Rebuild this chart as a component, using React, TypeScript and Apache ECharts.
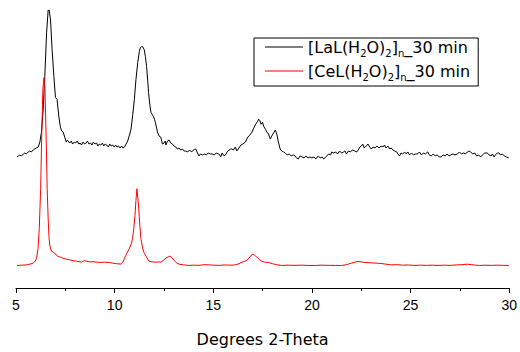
import React, { useEffect, useRef } from "react";
import * as echarts from "echarts";

const xTicks = [5, 10, 15, 20, 25, 30];
const laName = "[LaL(H2O)2]n_30 min";
const ceName = "[CeL(H2O)2]n_30 min";

// 2-Theta (deg), intensity (arbitrary units)
const laData: [number, number][] = [
  [5.05,132],[5.12,133],[5.2,134],[5.28,133],[5.37,135],[5.45,136],[5.52,135],[5.62,137],[5.7,138],[5.78,137],[5.87,139],[5.95,140],[6.03,141],[6.13,142],[6.21,147],[6.29,157],[6.38,180],[6.46,213],[6.55,257],[6.63,280],[6.68,280],[6.75,270],[6.83,240],[6.92,213],[7.0,192],[7.08,190],[7.17,173],[7.25,162],[7.32,158],[7.39,157],[7.47,152],[7.55,147],[7.6,149],[7.64,148],[7.72,146],[7.8,148],[7.87,145],[7.95,147],[8.02,146],[8.1,148],[8.18,145],[8.25,146],[8.32,144],[8.4,147],[8.48,145],[8.55,146],[8.62,148],[8.7,145],[8.78,146],[8.85,144],[8.92,147],[9.0,145],[9.08,146],[9.15,143],[9.22,145],[9.3,144],[9.38,146],[9.45,143],[9.52,145],[9.6,144],[9.68,142],[9.75,145],[9.82,143],[9.9,144],[9.98,142],[10.05,144],[10.12,142],[10.2,143],[10.28,141],[10.35,143],[10.42,141],[10.5,142],[10.58,145],[10.66,148],[10.75,154],[10.83,160],[10.92,175],[11.0,190],[11.08,210],[11.17,227],[11.25,238],[11.3,242],[11.36,243],[11.42,243],[11.5,240],[11.56,233],[11.62,223],[11.68,208],[11.72,197],[11.78,185],[11.84,177],[11.9,175],[11.96,173],[12.02,170],[12.06,167],[12.12,162],[12.17,157],[12.25,153],[12.34,152],[12.42,145],[12.5,146],[12.56,148],[12.6,144],[12.68,148],[12.76,149],[12.85,146],[12.93,145],[13.01,143],[13.1,142],[13.18,140],[13.26,141],[13.35,139],[13.44,140],[13.52,138],[13.6,138],[13.7,137],[13.8,139],[13.9,137],[14.0,139],[14.05,140],[14.11,140],[14.2,136],[14.27,133],[14.35,135],[14.45,134],[14.55,135],[14.65,134],[14.75,136],[14.85,135],[14.94,135],[15.05,134],[15.15,136],[15.28,135],[15.38,132],[15.45,136],[15.55,133],[15.62,134],[15.7,137],[15.8,139],[15.88,140],[15.94,140],[16.02,139],[16.12,142],[16.19,138],[16.3,141],[16.4,144],[16.5,145],[16.63,147],[16.75,152],[16.85,154],[16.96,157],[17.05,161],[17.15,165],[17.25,168],[17.3,170],[17.35,169],[17.42,165],[17.5,167],[17.55,163],[17.64,160],[17.72,157],[17.8,155],[17.89,150],[17.96,153],[18.05,156],[18.14,159],[18.22,155],[18.3,147],[18.39,140],[18.47,138],[18.56,137],[18.65,136],[18.75,134],[18.85,135],[18.95,133],[19.05,134],[19.15,133],[19.22,131],[19.31,130],[19.4,133],[19.5,132],[19.6,131],[19.7,133],[19.8,131],[19.9,132],[20.0,131],[20.1,132],[20.2,130],[20.32,133],[20.42,131],[20.52,132],[20.6,130],[20.66,131],[20.75,133],[20.85,135],[20.95,134],[21.0,137],[21.1,136],[21.2,137],[21.3,135],[21.4,138],[21.5,136],[21.6,137],[21.67,138],[21.75,135],[21.85,138],[21.95,137],[22.05,139],[22.17,138],[22.27,137],[22.35,139],[22.43,142],[22.5,143],[22.58,145],[22.65,141],[22.75,143],[22.84,145],[22.93,142],[23.01,140],[23.1,142],[23.2,141],[23.3,143],[23.4,141],[23.5,143],[23.6,142],[23.68,144],[23.76,141],[23.85,143],[23.95,140],[24.02,141],[24.1,139],[24.2,138],[24.3,137],[24.36,135],[24.44,133],[24.52,136],[24.6,135],[24.7,137],[24.78,135],[24.86,137],[24.95,134],[25.05,136],[25.15,134],[25.25,135],[25.36,135],[25.45,137],[25.55,134],[25.65,136],[25.75,135],[25.87,137],[25.95,134],[26.05,133],[26.15,135],[26.25,133],[26.35,134],[26.45,132],[26.54,132],[26.65,134],[26.75,133],[26.85,135],[26.95,133],[27.04,134],[27.15,135],[27.25,134],[27.38,135],[27.48,137],[27.58,135],[27.68,136],[27.78,135],[27.88,137],[27.96,138],[28.05,137],[28.15,135],[28.25,136],[28.35,133],[28.45,134],[28.55,132],[28.65,134],[28.75,136],[28.89,136],[28.98,134],[29.08,133],[29.15,135],[29.23,132],[29.3,134],[29.4,136],[29.48,136],[29.56,134],[29.65,135],[29.75,133],[29.85,132],[29.98,131]
];

const ceData: [number, number][] = [
  [5.05,22.7],[5.3,23],[5.54,23.3],[5.7,24],[5.87,25],[5.97,27],[6.04,30],[6.12,40],[6.18,60],[6.25,100],[6.3,150],[6.36,200],[6.42,212],[6.47,200],[6.53,150],[6.58,100],[6.63,70],[6.67,52],[6.71,43],[6.8,37],[6.9,36],[6.97,35],[7.05,33],[7.13,32],[7.25,31],[7.39,30],[7.55,29],[7.7,28.5],[7.9,27.5],[8.06,27],[8.2,26.5],[8.31,26],[8.4,27],[8.48,27.7],[8.6,26.8],[8.73,26.3],[8.9,26.5],[9.1,26],[9.3,25.8],[9.5,26],[9.74,25.7],[9.9,25],[10.1,24.5],[10.33,24],[10.42,26],[10.5,30],[10.62,35],[10.75,40],[10.85,45],[10.91,50],[10.97,60],[11.03,73],[11.08,88],[11.13,100],[11.18,90],[11.22,80],[11.28,62],[11.33,50],[11.42,40],[11.5,35],[11.59,32],[11.68,29],[11.75,27],[11.9,26.3],[12.09,26],[12.25,26.2],[12.34,26],[12.45,27.5],[12.6,30],[12.72,31.5],[12.8,32],[12.9,30.5],[13.01,28],[13.12,25.5],[13.27,24],[13.5,23.3],[13.77,22.7],[14.0,23],[14.3,22.8],[14.5,23.5],[14.78,23.3],[15.0,23],[15.3,22.8],[15.6,23.2],[15.9,23],[16.12,23.3],[16.3,24.5],[16.46,26],[16.6,27],[16.71,28],[16.8,30],[16.9,32.5],[17.0,34],[17.1,33],[17.21,31],[17.35,28.5],[17.46,27],[17.6,26],[17.8,25.7],[18.0,24.5],[18.2,23.5],[18.46,22.7],[18.8,23],[19.1,22.8],[19.5,23],[19.8,22.7],[20.16,22.7],[20.5,23],[20.9,22.8],[21.2,22.7],[21.5,22.7],[21.75,23.5],[22.0,25],[22.2,26.2],[22.34,26.7],[22.5,26.3],[22.68,25.7],[22.9,25.5],[23.1,25.2],[23.3,25],[23.5,24.7],[23.75,24],[24.0,23.3],[24.3,23.5],[24.6,23],[24.9,23.2],[25.2,22.7],[25.5,23],[25.8,22.8],[26.1,23],[26.4,22.7],[26.7,23],[27.0,22.8],[27.3,23.2],[27.6,23.5],[27.88,24],[28.1,23.5],[28.3,23],[28.5,22.7],[28.8,23],[29.1,22.8],[29.4,23],[29.7,22.8],[29.98,22.7]
];

const FONT = "DejaVu Sans";
const TICK_FONT = "Liberation Sans";

function richName(name: string): string {
  // [XxL(H2O)2]n_30 min with subscripts
  const m = name.match(/^\[(\w+)\(H2O\)2\]n(.*)$/);
  if (!m) return name;
  return `{a|[${m[1]}(H}{s|2}{a|O)}{s|2}{a|]}{s|n}{a|${m[2]}}`;
}

export default function App() {
  const ref = useRef<HTMLDivElement>(null);
  useEffect(() => {
    if (!ref.current) return;
    const chart = echarts.init(ref.current, undefined, { renderer: "svg" });
    chart.setOption({
      animation: false,
      backgroundColor: "#ffffff",
      grid: { left: 16, right: 8, top: 10, bottom: 62.5 },
      legend: {
        orient: "vertical",
        left: 254,
        top: 38,
        padding: [1, 8, 4, 11],
        itemGap: 5,
        borderColor: "#000",
        borderWidth: 1,
        icon: "rect",
        itemWidth: 38,
        itemHeight: 1,
        data: [laName, ceName],
        formatter: (n: string) => richName(n),
        textStyle: {
          color: "#000",
          fontFamily: FONT,
          rich: {
            a: { fontSize: 16, fontFamily: FONT, lineHeight: 22, color: "#000" },
            s: { fontSize: 10, fontFamily: FONT, lineHeight: 8, verticalAlign: "bottom", color: "#000" },
          },
        },
      },
      xAxis: {
        type: "value",
        min: xTicks[0],
        max: xTicks[xTicks.length - 1],
        interval: 5,
        name: "Degrees 2-Theta",
        nameLocation: "middle",
        nameGap: 43,
        nameTextStyle: { fontFamily: FONT, fontSize: 16, color: "#000" },
        axisLine: { show: true, lineStyle: { color: "#000", width: 1 } },
        axisTick: { show: true, inside: false, length: 5, lineStyle: { color: "#000" } },
        minorTick: { show: true, splitNumber: 2, length: 3, lineStyle: { color: "#000" } },
        axisLabel: { fontFamily: TICK_FONT, fontSize: 14, color: "#000", margin: 10 },
        splitLine: { show: false },
      },
      yAxis: {
        type: "value",
        min: 0,
        max: 280,
        show: false,
        splitLine: { show: false },
      },
      series: [
        {
          name: laName,
          type: "line",
          data: laData,
          symbol: "none",
          lineStyle: { color: "#000", width: 1 },
          itemStyle: { color: "#000" },
        },
        {
          name: ceName,
          type: "line",
          data: ceData,
          symbol: "none",
          lineStyle: { color: "#ff0000", width: 1 },
          itemStyle: { color: "#ff0000" },
        },
      ],
    });
    return () => chart.dispose();
  }, []);
  return <div ref={ref} style={{ width: 520, height: 352, position: "absolute", left: 0, top: 0 }} />;
}
